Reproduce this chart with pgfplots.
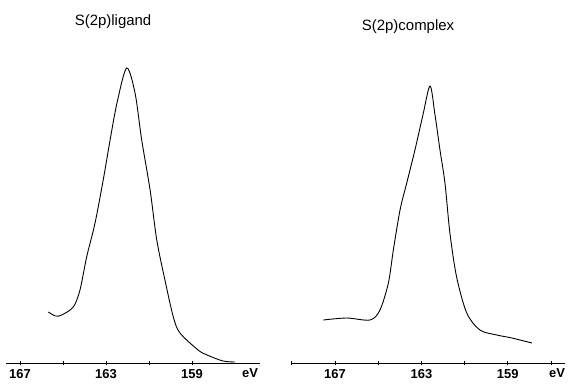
\documentclass[border=0pt]{standalone}
\usepackage{fontspec}
\setmainfont{Liberation Sans}
\usepackage{pgfplots}
\pgfplotsset{compat=1.18}
\begin{document}
\begin{tikzpicture}
\path[use as bounding box] (0,0) rectangle (570bp,385bp);
\pgfplotsset{
  xpsstyle/.style={
    scale only axis, height=300bp, ymin=0, ymax=300,
    x dir=reverse, axis x line=bottom, axis line style={-, line width=0.9bp},
    hide y axis, clip=false,
    tick align=center, major tick length=4bp,
    tick style={line width=0.8bp, black},
    /pgf/number format/assume math mode=true,
    ticklabel style={font=\fontsize{13}{15}\selectfont\bfseries},
    xticklabel style={yshift=-1bp},
  }
}
\begin{axis}[xpsstyle, at={(6bp,22bp)}, anchor=south west, width=254bp,
  xmin=155.84, xmax=167.65,
  xtick={167,165,163,161,159}, xticklabels={167,,163,,159}]
\addplot[black, line width=0.9bp, smooth, tension=0.5] coordinates {
(165.68,51) (165.35,47) (165.06,48) (164.52,56) (164.21,73)
(163.90,106) (163.51,140) (163.13,183) (162.81,223) (162.49,260) (162.04,295)
(161.65,270) (161.34,223) (160.95,173) (160.64,123) (160.26,83) (159.87,46)
(159.56,30) (158.72,13) (158.30,8) (157.56,2) (157.00,1)};
\node[font=\fontsize{15}{17}\selectfont] at (axis cs:162.67,341) {S(2p)ligand};
\node[font=\fontsize{13}{15}\selectfont\bfseries, anchor=center] at (axis cs:156.3,-10) {eV};
\end{axis}
\begin{axis}[xpsstyle, at={(291bp,22bp)}, anchor=south west, width=274bp,
  xmin=156.35, xmax=169.04,
  xtick={169,167,165,163,161,159,157}, xticklabels={,167,,163,,159,}]
\addplot[black, line width=0.9bp, smooth, tension=0.5] coordinates {
(167.54,43) (166.46,45) (165.38,43) (164.92,53) (164.53,80) (164.30,113)
(163.99,153) (163.68,180) (163.30,213) (162.93,248) (162.60,277)
(162.37,248) (162.14,213) (161.91,180) (161.68,130) (161.37,86) (160.90,50)
(160.29,33) (159.51,28) (158.81,25) (157.88,20)};
\node[font=\fontsize{15}{17}\selectfont] at (axis cs:163.62,336) {S(2p)complex};
\node[font=\fontsize{13}{15}\selectfont\bfseries, anchor=center] at (axis cs:156.72,-10) {eV};
\end{axis}
\end{tikzpicture}
\end{document}
